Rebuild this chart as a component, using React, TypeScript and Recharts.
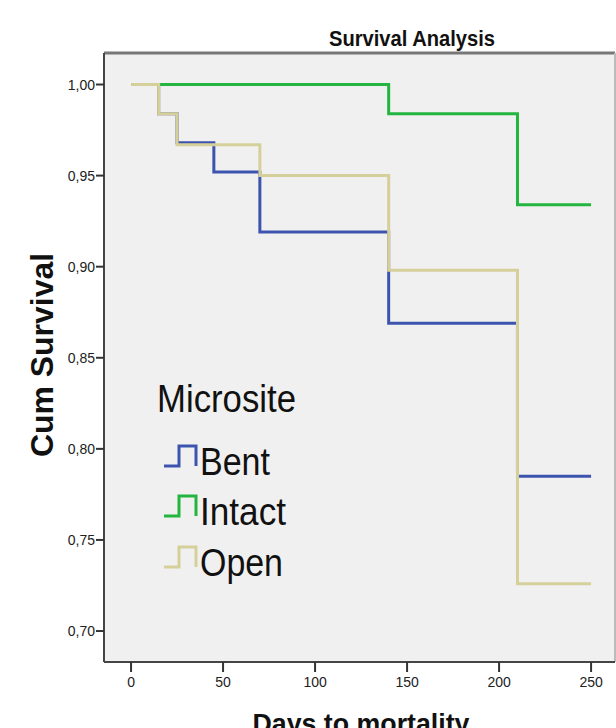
import { LineChart, Line, XAxis, YAxis, ReferenceArea, ReferenceLine } from "recharts";

// Kaplan-Meier step values per microsite (days, cumulative survival)
const bentDays = [0, 15, 25, 45, 70, 140, 210, 250];
const bentSurv = [1, 0.984, 0.968, 0.952, 0.919, 0.869, 0.785, 0.785];

const intactDays = [0, 140, 210, 250];
const intactSurv = [1, 0.984, 0.934, 0.934];

const openDays = [0, 15, 25, 70, 140, 210, 250];
const openSurv = [1, 0.984, 0.967, 0.95, 0.898, 0.726, 0.726];

const xTicks = [0, 50, 100, 150, 200, 250];
const yTicks = [0.7, 0.75, 0.8, 0.85, 0.9, 0.95, 1.0];

const X_DOMAIN: [number, number] = [-14.7, 263];
const Y_DOMAIN: [number, number] = [0.683, 1.0173];

const COLORS = { bent: "#3c54ad", intact: "#23b53f", open: "#d5cf99" };
const FONT = "'Liberation Sans', Arial, sans-serif";

const toPoints = (days: number[], surv: number[]) =>
  days.map((t, i) => ({ t, s: surv[i] }));

const legendItems = [
  { name: "Bent", color: COLORS.bent, baseline: 475, width: 70 },
  { name: "Intact", color: COLORS.intact, baseline: 525, width: 86 },
  { name: "Open", color: COLORS.open, baseline: 576, width: 83 },
];

function YTick({ x, y, payload }: any) {
  return (
    <text x={x} y={y} dy={5} textAnchor="end" fontSize={14} fill="#222" fontFamily={FONT}>
      {payload.value.toFixed(2).replace(".", ",")}
    </text>
  );
}

function XTick({ x, y, payload }: any) {
  return (
    <text x={x} y={y} dy={13} textAnchor="middle" fontSize={14} fill="#222" fontFamily={FONT}>
      {payload.value}
    </text>
  );
}

export default function App() {
  return (
    <div style={{ position: "absolute", left: 0, top: 0, width: 616, height: 728, background: "#fff" }}>
      <LineChart width={616} height={728} margin={{ top: 53, right: 1, bottom: 0, left: 0 }}>
        <ReferenceArea
          x1={X_DOMAIN[0]}
          x2={X_DOMAIN[1]}
          y1={Y_DOMAIN[0]}
          y2={Y_DOMAIN[1]}
          fill="#f0f0f0"
          fillOpacity={1}
          stroke="none"
        />
        <XAxis
          type="number"
          dataKey="t"
          domain={X_DOMAIN}
          ticks={xTicks}
          allowDataOverflow
          height={66}
          tickSize={10}
          tickMargin={2}
          tick={<XTick />}
          axisLine={{ stroke: "#444", strokeWidth: 2 }}
          tickLine={{ stroke: "#333", strokeWidth: 2 }}
        />
        <YAxis
          type="number"
          dataKey="s"
          domain={Y_DOMAIN}
          ticks={yTicks}
          allowDataOverflow
          width={104}
          tickSize={8}
          tickMargin={1}
          tick={<YTick />}
          axisLine={{ stroke: "#444", strokeWidth: 2 }}
          tickLine={{ stroke: "#333", strokeWidth: 2 }}
        />
        <ReferenceLine y={Y_DOMAIN[1]} stroke="#777" strokeWidth={3} />
        <ReferenceLine x={X_DOMAIN[1]} stroke="#bbb" strokeWidth={2} />
        <Line
          data={toPoints(bentDays, bentSurv)}
          dataKey="s"
          type="stepAfter"
          stroke={COLORS.bent}
          strokeWidth={3}
          dot={false}
          isAnimationActive={false}
        />
        <Line
          data={toPoints(intactDays, intactSurv)}
          dataKey="s"
          type="stepAfter"
          stroke={COLORS.intact}
          strokeWidth={3}
          dot={false}
          isAnimationActive={false}
        />
        <Line
          data={toPoints(openDays, openSurv)}
          dataKey="s"
          type="stepAfter"
          stroke={COLORS.open}
          strokeWidth={3}
          dot={false}
          isAnimationActive={false}
        />
      </LineChart>
      <svg
        width={616}
        height={728}
        style={{ position: "absolute", left: 0, top: 0, pointerEvents: "none" }}
        fontFamily={FONT}
      >
        <text x={412} y={46} textAnchor="middle" fontSize={22} fontWeight="bold" fill="#111"
          textLength={166} lengthAdjust="spacingAndGlyphs">
          Survival Analysis
        </text>
        <text transform="translate(53,355) rotate(-90)" textAnchor="middle" fontSize={31}
          fontWeight="bold" fill="#111" textLength={204} lengthAdjust="spacingAndGlyphs">
          Cum Survival
        </text>
        <text x={361} y={733} textAnchor="middle" fontSize={27} fontWeight="bold" fill="#111"
          textLength={217} lengthAdjust="spacingAndGlyphs">
          Days to mortality
        </text>
        <text x={157} y={412} fontSize={38} fill="#111" textLength={139} lengthAdjust="spacingAndGlyphs">
          Microsite
        </text>
        {legendItems.map((it) => (
          <g key={it.name}>
            <path
              d={`M164 ${it.baseline - 9} H179 V${it.baseline - 29} H196 V${it.baseline - 9}`}
              fill="none"
              stroke={it.color}
              strokeWidth={3}
            />
            <text x={200} y={it.baseline} fontSize={38} fill="#111" textLength={it.width}
              lengthAdjust="spacingAndGlyphs">
              {it.name}
            </text>
          </g>
        ))}
      </svg>
    </div>
  );
}
